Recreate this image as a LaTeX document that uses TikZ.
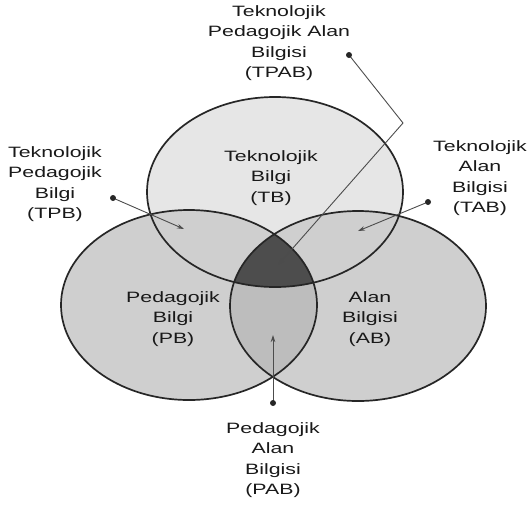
\documentclass[tikz,border=0pt]{standalone}
\usepackage{fontspec}
\setmainfont{Liberation Sans}[FakeStretch=1.42]
\usetikzlibrary{arrows.meta}

\definecolor{tbgray}{HTML}{E6E6E6}
\definecolor{pbgray}{HTML}{CFCFCF}
\definecolor{pabgray}{HTML}{BDBDBD}
\definecolor{tpabgray}{HTML}{4D4D4D}

\tikzset{
  lbl/.style={align=center, inner sep=0pt, text=black!90,
    font=\fontsize{15}{20.5}\selectfont},
  ring/.style={draw=black!85, line width=1.7pt},
  pointer/.style={draw=black!70, line width=0.9pt,
    -{Stealth[length=7pt,width=4.5pt]}},
}

\begin{document}
\begin{tikzpicture}[x=1pt,y=-1pt]
    \useasboundingbox (0,0) rectangle (530,504);
    \coordinate (tb) at (275,192);
    \coordinate (pb) at (189,305);
    \coordinate (ab) at (358,306);

    % filled regions
    \fill[tbgray] (tb) ellipse [x radius=128pt, y radius=95pt];
    \fill[pbgray] (pb) ellipse [x radius=128pt, y radius=95pt];
    \fill[pbgray] (ab) ellipse [x radius=128pt, y radius=95pt];
    \begin{scope}
      \clip (pb) ellipse [x radius=128pt, y radius=95pt];
      \fill[pabgray] (ab) ellipse [x radius=128pt, y radius=95pt];
      \clip (ab) ellipse [x radius=128pt, y radius=95pt];
      \fill[tpabgray] (tb) ellipse [x radius=128pt, y radius=95pt];
    \end{scope}

    % outlines
    \foreach \c in {tb,pb,ab} {
        \draw[ring] (\c) ellipse [x radius=128pt, y radius=95pt];
      }

    % texts
    \node[lbl] (tbtext) at (271,178) {Teknolojik\\Bilgi\\(TB)};
    \node[lbl] (pbtext) at (173,319) {Pedagojik\\Bilgi\\(PB)};
    \node[lbl] (abtext) at (370,319) {Alan\\Bilgisi\\(AB)};
    \node[lbl] (tpab) at (279,43) {Teknolojik\\Pedagojik Alan\\Bilgisi\\(TPAB)};
    \node[lbl] (tpb) at (55,184) {Teknolojik\\Pedagojik\\Bilgi\\(TPB)};
    \node[lbl] (tab) at (480,178) {Teknolojik\\Alan\\Bilgisi\\(TAB)};
    \node[lbl] (pab) at (273,460) {Pedagojik\\Alan\\Bilgisi\\(PAB)};

    % pointers
    \coordinate (tpabdot) at (349,55);
    \coordinate (tpabbend) at (403,123);
    \coordinate (tpabtip) at (278,265);
    \coordinate (tpbdot) at (113,198);
    \coordinate (tpbtip) at (184,229);
    \coordinate (tabdot) at (428,202);
    \coordinate (tabtip) at (358,231);
    \coordinate (pabdot) at (273,403);
    \coordinate (pabtip) at (273,335);
    \draw[pointer] (tpabdot) -- (tpabbend) -- (tpabtip);
    \draw[pointer] (tpbdot) -- (tpbtip);
    \draw[pointer] (tabdot) -- (tabtip);
    \draw[pointer] (pabdot) -- (pabtip);
    \foreach \d in {tpabdot,tpbdot,tabdot,pabdot} {
        \fill[black!85] (\d) circle (3pt);
      }
  \end{tikzpicture}
\end{document}
